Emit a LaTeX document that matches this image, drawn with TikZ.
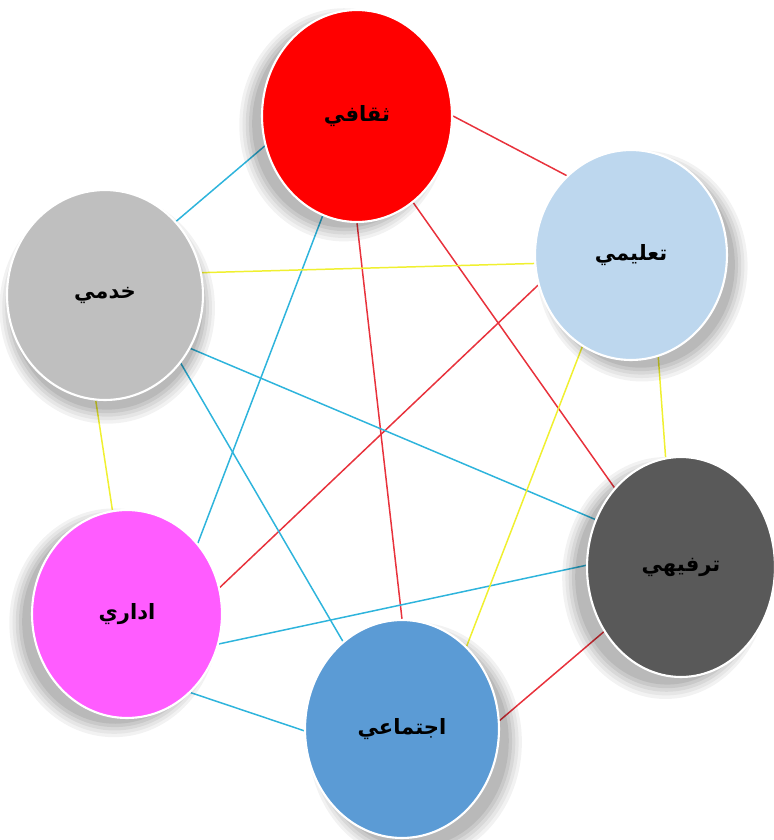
\documentclass[tikz,border=0pt]{standalone}
\usepackage{fontspec}
\newfontfamily\arabicfont[Script=Arabic]{DejaVu Sans}
\TeXXeTstate=1
\usetikzlibrary{shapes.geometric,shadows,backgrounds}

\definecolor{culturered}{HTML}{FF0000}
\definecolor{servicegray}{HTML}{BFBFBF}
\definecolor{teachblue}{HTML}{BDD7EE}
\definecolor{leisuregray}{HTML}{595959}
\definecolor{adminpink}{HTML}{FF5CFF}
\definecolor{socialblue}{HTML}{5B9BD5}
\definecolor{linkred}{HTML}{E8323C}
\definecolor{linkcyan}{HTML}{2EB4DC}
\definecolor{linkyellow}{HTML}{F0F030}

\tikzset{
  bubble/.style = {shape=ellipse, draw=white, line width=1.2pt, inner sep=0pt,
                   font=\arabicfont\bfseries\large},
  softshadow/.style 2 args = {
    drop shadow={shadow xshift=#1, shadow yshift=#2, shadow scale=1.10, opacity=.05, fill=black},
    drop shadow={shadow xshift=#1, shadow yshift=#2, shadow scale=1.07, opacity=.05, fill=black},
    drop shadow={shadow xshift=#1, shadow yshift=#2, shadow scale=1.04, opacity=.06, fill=black},
    drop shadow={shadow xshift=#1, shadow yshift=#2, shadow scale=1.01, opacity=.07, fill=black},
    drop shadow={shadow xshift=#1, shadow yshift=#2, shadow scale=0.98, opacity=.08, fill=black}},
  link/.style = {line width=0.85pt}
}

\begin{document}
\begin{tikzpicture}[x=0.02cm, y=-0.02cm]
\useasboundingbox (0,0) rectangle (774,840);

% the six circles
\node[bubble, fill=culturered, minimum width=3.8cm, minimum height=4.24cm, softshadow={-0.24cm}{-0.16cm}] (A) at (357,116) {\beginR ثقافي\endR};
\node[bubble, fill=teachblue, minimum width=3.84cm, minimum height=4.2cm, softshadow={0.2cm}{-0.2cm}] (B) at (631,255) {\beginR تعليمي\endR};
\node[bubble, fill=leisuregray, minimum width=3.76cm, minimum height=4.4cm, softshadow={-0.28cm}{-0.2cm}] (C) at (681,567) {\beginR ترفيهي\endR};
\node[bubble, fill=socialblue, minimum width=3.88cm, minimum height=4.36cm, softshadow={0.24cm}{-0.24cm}] (D) at (402,729) {\beginR اجتماعي\endR};
\node[bubble, fill=adminpink, minimum width=3.8cm, minimum height=4.16cm, softshadow={-0.24cm}{-0.16cm}] (E) at (127,614) {\beginR اداري\endR};
\node[bubble, fill=servicegray, minimum width=3.92cm, minimum height=4.2cm, softshadow={0.04cm}{-0.24cm}] (F) at (105,295) {\beginR خدمي\endR};

% connections behind the circles
\begin{scope}[on background layer]
\foreach \from/\to/\col in {A.0/B.129/linkred, A.-57/C.130/linkred, A.-90/D.90/linkred,
    B.198/E.16/linkred, C.220/D.5/linkred,
    A.198/F.46/linkcyan, A.251/E.45/linkcyan, F.-32/C.151/linkcyan,
    F.-42/D.124/linkcyan, E.-18/C.179/linkcyan, E.-51/D.181/linkcyan,
    F.13/B.185/linkyellow, F.265/E.98/linkyellow, B.242/D.52/linkyellow, B.285/C.98/linkyellow}
  \draw[link, \col] (\from) -- (\to);
\end{scope}

\end{tikzpicture}
\end{document}
